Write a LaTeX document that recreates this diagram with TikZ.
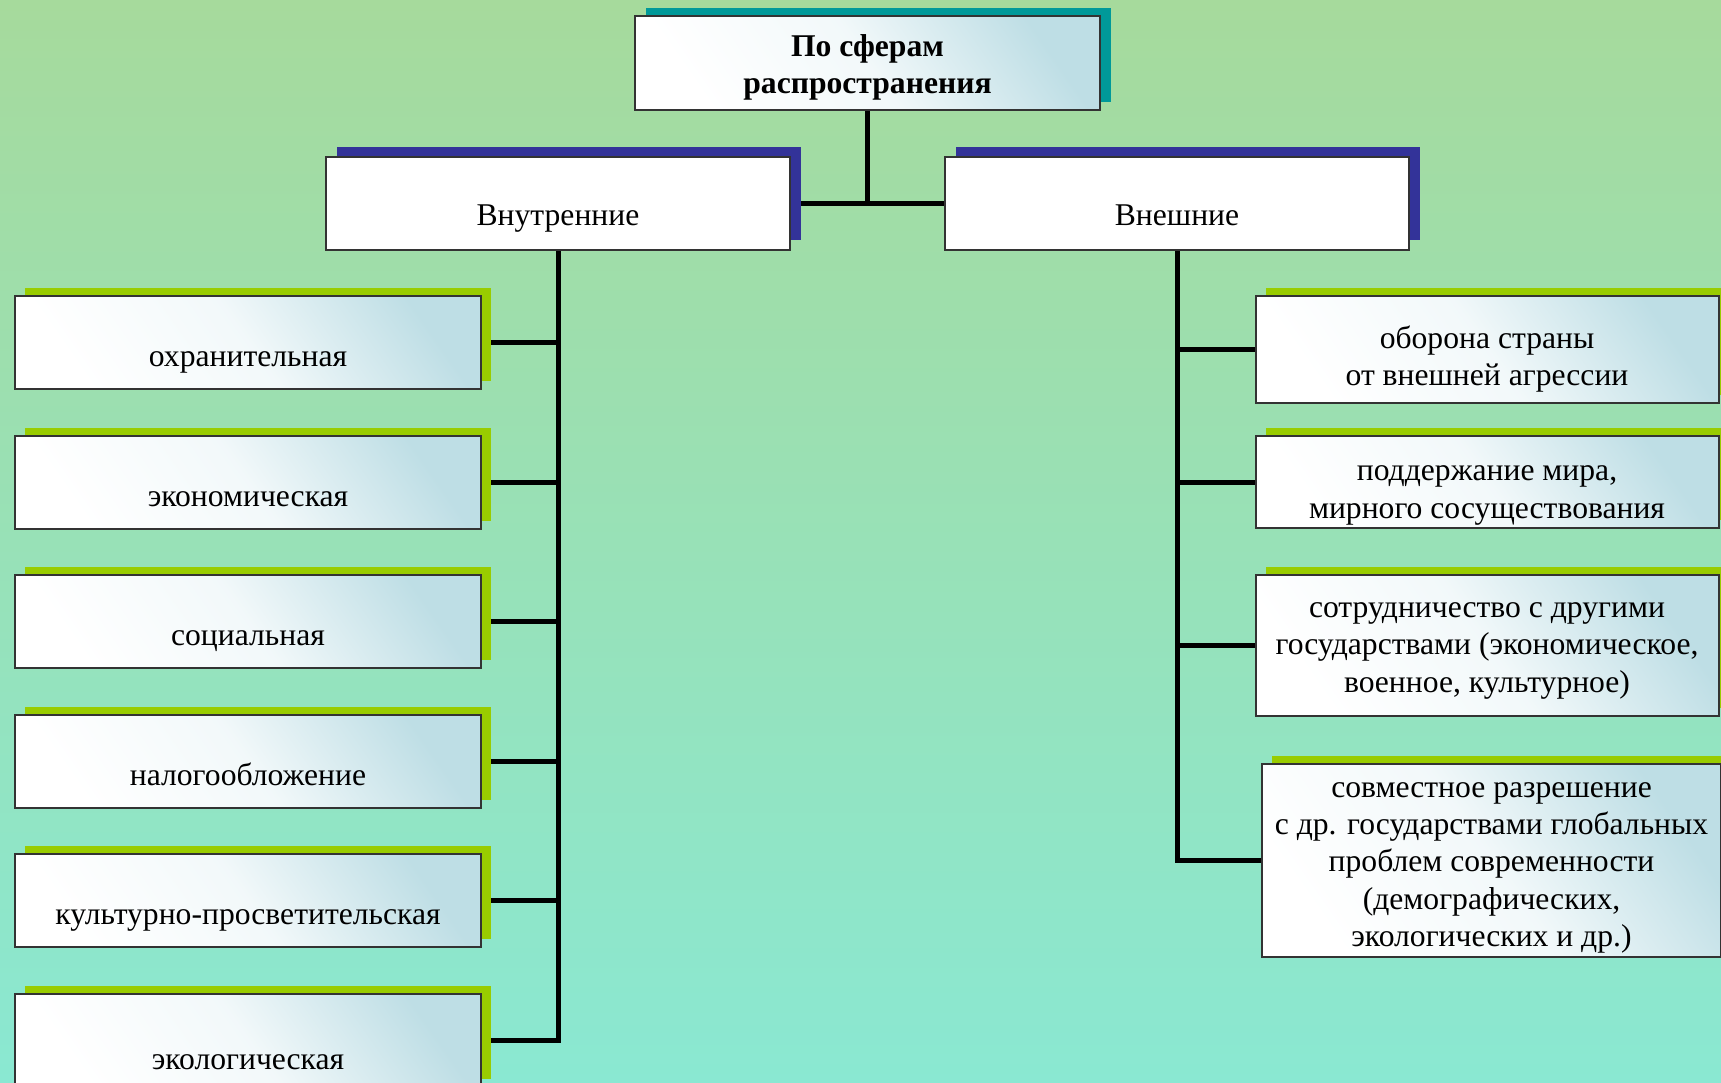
\documentclass[tikz,border=0pt]{standalone}
\usepackage{fontspec}
\setmainfont{Liberation Serif}
\usetikzlibrary{shadows, backgrounds}

\definecolor{bgtop}{RGB}{166,218,156}
\definecolor{bgbottom}{RGB}{138,232,210}
\definecolor{boxtint}{RGB}{190,222,229}
\definecolor{tealshadow}{RGB}{0,153,153}
\definecolor{blueshadow}{RGB}{51,51,153}
\definecolor{greenshadow}{RGB}{153,204,0}

\begin{document}
\begin{tikzpicture}[
    box/.style={rectangle, draw=black!80, line width=0.04cm, inner sep=0pt, align=center,
        font=\fontsize{18}{21.3}\selectfont},
    shaded/.style={box, top color=boxtint, bottom color=white, middle color=white!80!boxtint,
        shading angle=-55},
    headbox/.style={shaded, minimum width=9.3cm, minimum height=1.88cm, text height=39pt,
        font=\fontsize{18}{21.3}\selectfont\bfseries,
        drop shadow={shadow xshift=0.22cm, shadow yshift=0.16cm, fill=tealshadow, opacity=1}},
    groupbox/.style={box, fill=white, minimum width=9.28cm, minimum height=1.86cm,
        text height=25pt, text depth=0pt,
        drop shadow={shadow xshift=0.22cm, shadow yshift=0.2cm, fill=blueshadow, opacity=1}},
    leftbox/.style={shaded, minimum width=9.32cm, minimum height=1.86cm,
        text height=27pt, text depth=0pt,
        drop shadow={shadow xshift=0.2cm, shadow yshift=0.16cm, fill=greenshadow, opacity=1}},
    rightbox/.style={shaded, minimum width=9.26cm,
        drop shadow={shadow xshift=0.2cm, shadow yshift=0.16cm, fill=greenshadow, opacity=1}},
    link/.style={line width=0.1cm}
]

    \useasboundingbox (0,0) rectangle (34.42,-21.66);

    % Main Box
    \node[headbox] (sphere) at (17.35,-1.26) {По сферам\\распространения};

    % Groups
    \node[groupbox] (internal) at (11.16,-4.07) {Внутренние};
    \node[groupbox] (external) at (23.54,-4.07) {Внешние};

    % --- Left Side: internal functions ---
    \node[leftbox] (protect) at (4.96,-6.85) {охранительная};
    \node[leftbox] (econ) at (4.96,-9.65) {экономическая};
    \node[leftbox] (social) at (4.96,-12.43) {социальная};
    \node[leftbox] (tax) at (4.96,-15.23) {налогообложение};
    \node[leftbox] (culture) at (4.96,-18.01) {культурно-просветительская};
    \node[leftbox, text height=34pt] (ecology) at (4.96,-20.80) {экологическая};

    % --- Right Side: external functions ---
    \node[rightbox, minimum height=2.14cm, text height=45pt] (defence) at (29.74,-6.99)
        {оборона страны\\от внешней агрессии};
    \node[rightbox, minimum height=1.84cm, text height=45pt] (peace) at (29.74,-9.64)
        {поддержание мира,\\мирного сосуществования};
    \node[rightbox, minimum height=2.82cm, text height=57pt] (coop) at (29.74,-12.91)
        {сотрудничество с другими\\государствами (экономическое,\\военное, культурное)};
    \node[rightbox, minimum width=9.18cm, minimum height=3.86cm, text height=102pt] (global) at (29.83,-17.21)
        {совместное разрешение\\с др. государствами глобальных\\проблем современности\\(демографических,\\экологических и др.)};

    % Background and connectors behind the boxes
    \begin{scope}[on background layer]
        \shade[top color=bgtop, bottom color=bgbottom] (0,0) rectangle (34.42,-21.66);

        \draw[link] (sphere.south) -- (sphere.south |- internal.east);
        \draw[link] (internal.east) -- (external.west);

        \draw[link] (internal.south) |- (ecology.east);
        \draw[link] (protect.east) -- (protect.east -| internal.south);
        \draw[link] (econ.east) -- (econ.east -| internal.south);
        \draw[link] (social.east) -- (social.east -| internal.south);
        \draw[link] (tax.east) -- (tax.east -| internal.south);
        \draw[link] (culture.east) -- (culture.east -| internal.south);

        \draw[link] (external.south) |- (global.west);
        \draw[link] (defence.west) -- (defence.west -| external.south);
        \draw[link] (peace.west) -- (peace.west -| external.south);
        \draw[link] (coop.west) -- (coop.west -| external.south);
    \end{scope}

\end{tikzpicture}
\end{document}
